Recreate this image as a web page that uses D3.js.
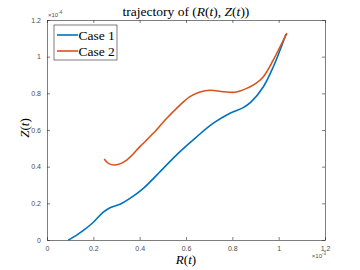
<!DOCTYPE html>
<html>
<head>
<meta charset="utf-8">
<script src="https://cdn.jsdelivr.net/npm/d3@7"></script>
<style>
body{margin:0;background:#fff}
svg{display:block}
.tick text{font-family:"Liberation Sans",Arial,sans-serif;font-size:7px;fill:#4d4d4d}
.lbl{font-family:"Liberation Serif","Times New Roman",serif;fill:#000}
</style>
</head>
<body>
<div id="chart"></div>
<script>
var w = 360
var h = 270
var margin = {left:47, right:35, top:20, bottom:30}

// R in 1e-3, Z in 1e-4
var case1R = [0.092,0.128,0.160,0.200,0.243,0.272,0.315,0.358,0.416,0.502,0.574,0.646,0.718,0.790,0.847,0.880,0.934,0.977,1.006,1.032]
var case1Z = [0.000,0.027,0.055,0.097,0.152,0.176,0.195,0.227,0.282,0.391,0.482,0.563,0.637,0.691,0.722,0.752,0.836,0.945,1.036,1.124]
var case2R = [0.247,0.265,0.294,0.344,0.401,0.459,0.517,0.574,0.617,0.660,0.704,0.761,0.812,0.862,0.900,0.934,0.977,1.006,1.036]
var case2Z = [0.442,0.418,0.409,0.436,0.509,0.582,0.664,0.736,0.782,0.807,0.817,0.809,0.806,0.827,0.853,0.891,0.982,1.054,1.129]
var xTicks = [0,0.2,0.4,0.6,0.8,1,1.2]
var yTicks = [0,0.2,0.4,0.6,0.8,1,1.2]
var seriesNames = ["Case 1","Case 2"]
var colors = ["#0072BD","#D95319"]

var svg = d3.select("#chart").append("svg").attr("width",w).attr("height",h)

var x = d3.scaleLinear().domain([0,1.2]).range([margin.left, w-margin.right])
var y = d3.scaleLinear().domain([0,1.2]).range([h-margin.bottom, margin.top])

var axisColor = "#262626"

svg.append("g").attr("transform","translate(0,"+y(0)+")")
    .call(d3.axisBottom(x).tickValues(xTicks).tickSizeInner(-3).tickSizeOuter(0).tickPadding(6).tickFormat(d3.format("~g")))
svg.append("g").attr("transform","translate(0,"+y(1.2)+")")
    .call(d3.axisTop(x).tickValues(xTicks).tickSizeInner(-3).tickSizeOuter(0).tickFormat(""))
svg.append("g").attr("transform","translate("+x(0)+",0)")
    .call(d3.axisLeft(y).tickValues(yTicks).tickSizeInner(-3).tickSizeOuter(0).tickPadding(6).tickFormat(d3.format("~g")))
svg.append("g").attr("transform","translate("+x(1.2)+",0)")
    .call(d3.axisRight(y).tickValues(yTicks).tickSizeInner(-3).tickSizeOuter(0).tickFormat(""))

svg.selectAll(".domain").attr("stroke",axisColor).attr("stroke-width",0.6)
svg.selectAll(".tick line").attr("stroke",axisColor).attr("stroke-width",0.6)

var line = d3.line().x(function(d){return x(d[0])}).y(function(d){return y(d[1])}).curve(d3.curveCatmullRom)
var series = [d3.zip(case1R,case1Z), d3.zip(case2R,case2Z)]

series.forEach(function(s,i){
    svg.append("path").datum(s).attr("d",line)
        .attr("fill","none").attr("stroke",colors[i]).attr("stroke-width",1.6)
})

// exponent labels
svg.append("text").attr("x",x(0)+1).attr("y",y(1.2)-3)
    .style("font-family","Liberation Sans,Arial,sans-serif").style("font-size","6px").attr("fill","#4d4d4d")
    .html("×10<tspan dy='-3' font-size='4.5px'>-4</tspan>")
svg.append("text").attr("x",x(1.2)+1).attr("y",y(0)+18).attr("text-anchor","end")
    .style("font-family","Liberation Sans,Arial,sans-serif").style("font-size","6px").attr("fill","#4d4d4d")
    .html("×10<tspan dy='-3' font-size='4.5px'>-3</tspan>")

// title & labels
svg.append("text").attr("class","lbl").attr("x",(x(0)+x(1.2))/2).attr("y",16)
    .attr("text-anchor","middle").style("font-size","13.5px")
    .html("trajectory of (<tspan font-style='italic'>R</tspan>(<tspan font-style='italic'>t</tspan>), <tspan font-style='italic'>Z</tspan>(<tspan font-style='italic'>t</tspan>))")
svg.append("text").attr("class","lbl").attr("x",(x(0)+x(1.2))/2).attr("y",264)
    .attr("text-anchor","middle").style("font-size","13px")
    .html("<tspan font-style='italic'>R</tspan>(<tspan font-style='italic'>t</tspan>)")
svg.append("text").attr("class","lbl").attr("transform","translate(29,"+(y(0.6)-2)+") rotate(-90)")
    .attr("text-anchor","middle").style("font-size","13px")
    .html("<tspan font-style='italic'>Z</tspan>(<tspan font-style='italic'>t</tspan>)")

// legend
var lg = svg.append("g").attr("transform","translate(54,25)")
lg.append("rect").attr("width",63).attr("height",35).attr("fill","#fff").attr("stroke",axisColor).attr("stroke-width",0.6)
seriesNames.forEach(function(n,i){
    var yy = 10 + i*16
    lg.append("line").attr("x1",3).attr("x2",24).attr("y1",yy).attr("y2",yy).attr("stroke",colors[i]).attr("stroke-width",1.6)
    lg.append("text").attr("class","lbl").attr("x",24.5).attr("y",yy+4.5).style("font-size","13.5px").text(n)
})
</script>
</body>
</html>
